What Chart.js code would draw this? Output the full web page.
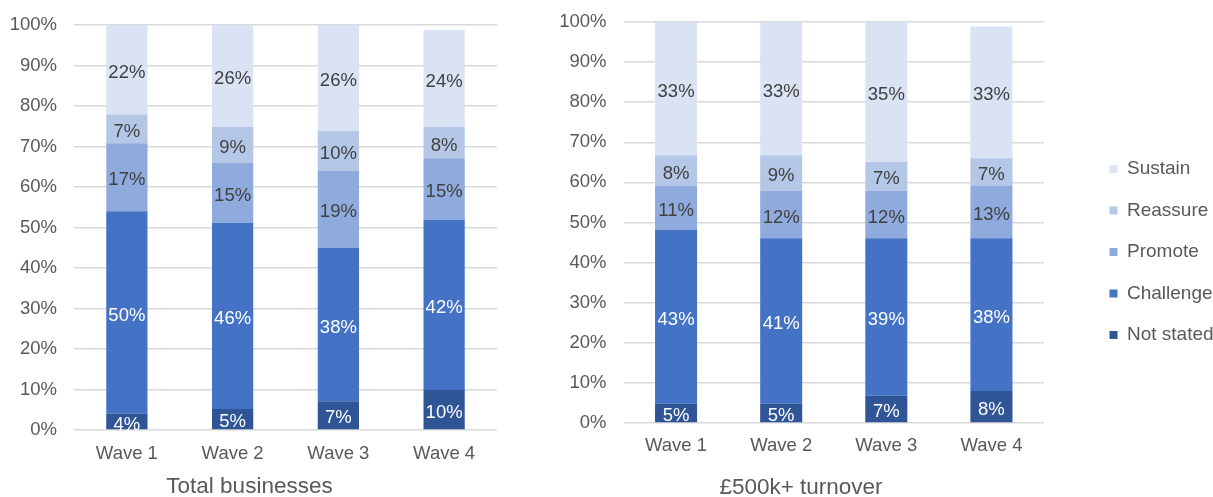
<!DOCTYPE html>
<html><head><meta charset="utf-8">
<script src="https://cdn.jsdelivr.net/npm/chart.js@4.4.1/dist/chart.umd.min.js"></script>
<style>
html,body{margin:0;padding:0;background:#fff;overflow:hidden;width:1213px;height:497px;}
.box{position:absolute;top:0;}
</style></head><body>
<div class="box" style="left:0;width:499px;height:497px"><canvas id="c1"></canvas></div>
<div class="box" style="left:540px;width:522px;height:500px"><canvas id="c2"></canvas></div>
<div class="box" style="left:1087px;width:126px;height:497px"><canvas id="c3"></canvas></div>
<script>
// ---- data ----
const categories = ['Wave 1', 'Wave 2', 'Wave 3', 'Wave 4'];
const seriesNames = ['Not stated', 'Challenge', 'Promote', 'Reassure', 'Sustain'];
const panelTitles = ['Total businesses', '£500k+ turnover'];

// Total businesses (% of respondents)
const totalNotStated = [4.0, 5.2, 7.1, 9.9];
const totalChallenge = [50.0, 45.9, 37.9, 42.0];
const totalPromote   = [16.8, 14.8, 19.0, 15.2];
const totalReassure  = [7.1, 8.9, 9.9, 7.7];
const totalSustain   = [22.1, 25.5, 26.1, 24.0];

// £500k+ turnover (% of respondents)
const bigNotStated = [4.8, 4.8, 6.8, 8.0];
const bigChallenge = [43.3, 41.3, 39.3, 38.1];
const bigPromote   = [11.0, 11.8, 11.8, 13.0];
const bigReassure  = [7.7, 8.9, 7.2, 6.9];
const bigSustain   = [33.2, 33.2, 34.9, 32.9];

const yTicks = [0, 10, 20, 30, 40, 50, 60, 70, 80, 90, 100];

// ---- styles ----
const FAMILY = '"Liberation Sans", Arial, sans-serif';
const colors = ['#2F5597', '#4472C4', '#8FAADC', '#B4C7E7', '#DAE3F3'];
const labelColors = ['#FFFFFF', '#FFFFFF', '#404040', '#404040', '#404040'];
const TEXT = '#595959';
const FS = 18.5;

function buildDatasets(series) {
  return series.map((d, i) => ({
    label: seriesNames[i],
    data: d,
    backgroundColor: colors[i],
    borderWidth: 0
  }));
}

const segLabels = {
  id: 'segLabels',
  afterDatasetsDraw(chart) {
    const ctx = chart.ctx;
    ctx.save();
    ctx.font = FS + 'px ' + FAMILY;
    ctx.textAlign = 'center';
    ctx.textBaseline = 'middle';
    chart.data.datasets.forEach((ds, i) => {
      const meta = chart.getDatasetMeta(i);
      meta.data.forEach((bar, j) => {
        const p = bar.getProps(['x', 'y', 'base'], true);
        ctx.fillStyle = labelColors[i];
        ctx.fillText(Math.round(ds.data[j]) + '%', p.x, (p.y + p.base) / 2 + 3);
      });
    });
    ctx.restore();
  }
};

function makeOptions(title, cfg) {
  return {
    responsive: true,
    maintainAspectRatio: false,
    animation: false,
    layout: { padding: { left: cfg.pl, right: cfg.pr, top: cfg.pt, bottom: 0 } },
    datasets: { bar: { barPercentage: 1, categoryPercentage: cfg.cat } },
    scales: {
      x: {
        stacked: true,
        grid: { display: false, drawTicks: false },
        border: { display: false },
        ticks: { padding: cfg.xPad, color: TEXT, font: { size: FS, family: FAMILY } }
      },
      y: {
        stacked: true,
        min: 0, max: 100,
        afterBuildTicks: (s) => { s.ticks = yTicks.map(v => ({ value: v })); },
        afterFit: (s) => { s.width = cfg.axisW; },
        ticks: { padding: 3, color: TEXT, font: { size: FS, family: FAMILY }, callback: v => v + '%' },
        grid: { color: '#D9D9D9', lineWidth: 1.5, drawTicks: true, tickLength: 14, tickColor: 'rgba(0,0,0,0)' },
        border: { display: false }
      }
    },
    plugins: {
      legend: { display: false },
      tooltip: { enabled: false },
      title: {
        display: true, position: 'bottom', text: title, color: TEXT,
        font: { size: 22.5, family: FAMILY, weight: 'normal' },
        padding: { top: cfg.tpt, bottom: cfg.tpb }
      }
    }
  };
}

new Chart(document.getElementById('c1'), {
  type: 'bar',
  data: { labels: categories, datasets: buildDatasets([totalNotStated, totalChallenge, totalPromote, totalReassure, totalSustain]) },
  options: makeOptions(panelTitles[0], { pl: 2, pr: 2, pt: 25, cat: 0.39, xPad: 13, axisW: 72, tpt: -5.2, tpb: -3 }),
  plugins: [segLabels]
});

new Chart(document.getElementById('c2'), {
  type: 'bar',
  data: { labels: categories, datasets: buildDatasets([bigNotStated, bigChallenge, bigPromote, bigReassure, bigSustain]) },
  options: makeOptions(panelTitles[1], { pl: 18, pr: 18, pt: 22, cat: 0.4, xPad: 12, axisW: 65.5, tpt: 4.8, tpb: -1 }),
  plugins: [segLabels]
});

// legend (shared)
new Chart(document.getElementById('c3'), {
  type: 'bar',
  data: { labels: [], datasets: seriesNames.map((n, i) => ({ label: n, data: [], backgroundColor: colors[i], borderWidth: 0 })) },
  options: {
    responsive: true, maintainAspectRatio: false, animation: false,
    layout: { padding: { top: 7, bottom: 0, left: 0, right: 0 } },
    scales: { x: { display: false }, y: { display: false } },
    plugins: {
      tooltip: { enabled: false },
      legend: {
        position: 'left', reverse: true, maxWidth: 126,
        labels: { boxWidth: 8, boxHeight: 8, padding: 22.5, color: TEXT, font: { size: 19, family: FAMILY } }
      }
    }
  }
});
</script>
</body></html>
